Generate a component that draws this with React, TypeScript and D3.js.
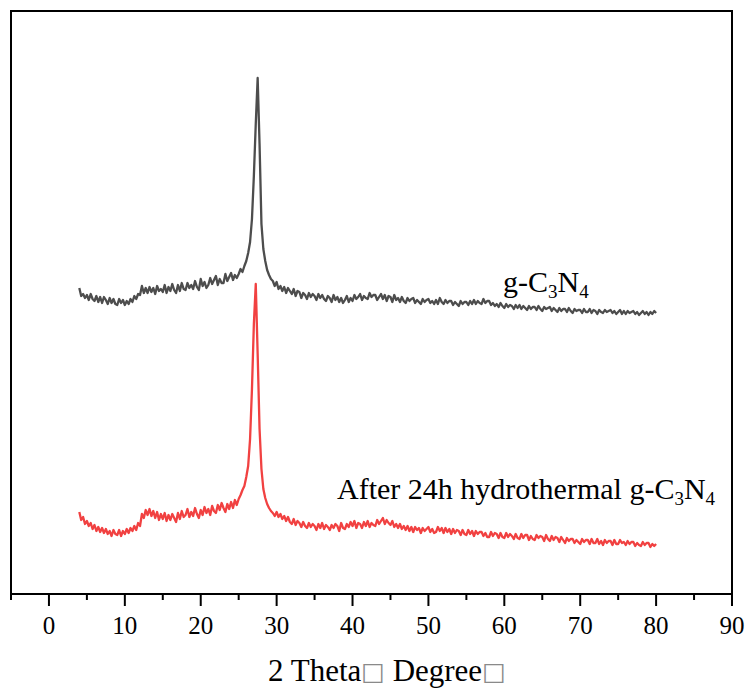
import React from 'react';
import * as d3 from 'd3';

// 2θ sampling of the two patterns (degrees)
const ANGLE_START = 4;
const ANGLE_STEP = 0.25;

const xMajorTicks = [0, 10, 20, 30, 40, 50, 60, 70, 80, 90];
const xMinorTicks = [-5, 5, 15, 25, 35, 45, 55, 65, 75, 85];

// Intensity (a.u.) of pristine g-C3N4, 4°..80° every 0.25°
const gC3N4 = [
  306, 298, 300, 296,
  299, 294, 300, 295,
  293, 298, 292, 297,
  291, 297, 294, 290,
  296, 291, 295, 290,
  289, 295, 291, 294,
  289, 293, 290, 295,
  292, 298, 295, 300,
  299, 308, 301, 306,
  301, 307, 302, 306,
  300, 308, 303, 305,
  302, 309, 301, 307,
  303, 310, 304, 301,
  309, 303, 311, 305,
  304, 311, 306, 309,
  305, 313, 307, 304,
  315, 308, 312, 306,
  309, 316, 310, 314,
  318, 309, 315, 311,
  311, 320, 313, 317,
  321, 314, 319, 316,
  320, 325, 322, 328,
  333, 341, 352, 375,
  418, 470, 516, 450,
  370, 345, 333, 324,
  319, 315, 313, 308,
  312, 305, 308, 303,
  307, 301, 306, 303,
  300, 305, 298, 303,
  302, 296, 301, 299,
  295, 301, 297, 300,
  298, 294, 300, 296,
  299, 295, 293, 298,
  296, 292, 299, 294,
  297, 292, 296, 291,
  294, 298, 292, 296,
  293, 299, 295, 297,
  300, 294, 298, 296,
  295, 301, 297, 299,
  299, 294, 297, 300,
  295, 299, 293, 298,
  297, 292, 299, 294,
  296, 292, 297, 293,
  291, 296, 293, 295,
  296, 291, 294, 292,
  290, 295, 292, 294,
  295, 291, 293, 290,
  294, 290, 296, 292,
  290, 294, 291, 293,
  293, 289, 292, 290,
  288, 293, 290, 292,
  292, 289, 293, 290,
  294, 290, 293, 291,
  290, 295, 291, 293,
  293, 289, 291, 288,
  290, 287, 291, 288,
  286, 290, 287, 289,
  288, 285, 289, 286,
  289, 285, 288, 286,
  284, 288, 285, 287,
  287, 284, 288, 285,
  283, 287, 285, 286,
  287, 283, 286, 284,
  282, 286, 283, 285,
  285, 282, 286, 283,
  281, 285, 283, 284,
  284, 281, 285, 282,
  282, 285, 281, 284,
  283, 280, 284, 282,
  281, 284, 282, 283,
  284, 281, 283, 280,
  282, 284, 280, 283,
  280, 283, 281, 282,
  283, 280, 282, 279,
  281, 283, 280, 282,
  279, 282, 280, 283,
  281,
];

// Intensity (a.u.) after 24h hydrothermal treatment, 4°..80° every 0.25°
const hydrothermalC3N4 = [
  82, 74, 77, 70,
  73, 68, 71, 65,
  69, 63, 67, 62,
  66, 61, 65, 60,
  63, 58, 64, 60,
  59, 64, 58, 63,
  60, 65, 61, 66,
  63, 68, 64, 71,
  68, 80, 76, 84,
  79, 85, 78, 83,
  76, 82, 74, 80,
  75, 81, 73, 79,
  74, 80, 76, 72,
  81, 75, 83, 77,
  79, 85, 77, 82,
  78, 86, 80, 76,
  84, 79, 87, 81,
  85, 79, 88, 83,
  81, 89, 84, 91,
  86, 82, 90, 85,
  92, 86, 94, 89,
  95, 99, 104, 108,
  117, 128, 155, 205,
  270, 310, 240, 165,
  125, 105, 96, 90,
  86, 83, 81, 78,
  82, 77, 80, 75,
  78, 73, 77, 72,
  70, 75, 69, 73,
  71, 67, 72, 68,
  66, 71, 67, 70,
  68, 64, 70, 66,
  71, 65, 69, 67,
  64, 69, 66, 70,
  68, 63, 71, 66,
  65, 70, 67, 72,
  68, 73, 66, 71,
  70, 66, 72, 68,
  73, 67, 71, 69,
  68, 74, 70, 73,
  76, 70, 74, 71,
  69, 73, 67, 70,
  66, 70, 65, 68,
  64, 68, 63, 67,
  62, 67, 64, 66,
  61, 66, 63, 65,
  67, 62, 65, 61,
  62, 67, 63, 66,
  61, 66, 62, 65,
  60, 65, 61, 64,
  63, 59, 64, 60,
  59, 64, 60, 63,
  58, 63, 60, 62,
  62, 58, 61, 57,
  57, 62, 58, 61,
  60, 56, 61, 57,
  56, 61, 57, 60,
  58, 55, 60, 56,
  55, 60, 56, 59,
  59, 54, 58, 55,
  54, 59, 56, 58,
  57, 53, 59, 55,
  53, 58, 54, 57,
  56, 52, 57, 54,
  51, 56, 53, 55,
  55, 51, 54, 52,
  50, 55, 52, 54,
  54, 50, 55, 51,
  51, 55, 50, 53,
  49, 54, 51, 53,
  53, 49, 54, 50,
  50, 54, 51, 52,
  49, 53, 50, 52,
  52, 48, 51, 49,
  48, 52, 49, 51,
  51, 47, 50, 48,
  50,
];

const xTitle = ['2 Theta', '□', ' Degree', '□'];

const SERIF = '"Liberation Serif", "Times New Roman", Times, serif';
const BOXFONT = '"DejaVu Sans", sans-serif';

export default function App() {
  const W = 750;
  const H = 691;
  const left = 11, right = 732, top = 11, bottom = 594;

  const x = d3.scaleLinear().domain([-5, 90]).range([left, right]);
  const y = d3.scaleLinear().domain([0, 583]).range([bottom, top]);

  const line = d3
    .line<number>()
    .x((_, i) => x(ANGLE_START + i * ANGLE_STEP))
    .y((d) => y(d));

  return (
    <svg
      width={W}
      height={H}
      viewBox={`0 0 ${W} ${H}`}
      style={{ position: 'absolute', left: 0, top: 0, background: '#fff' }}
    >
      <rect x={0} y={0} width={W} height={H} fill="#fff" />
      <path d={line(gC3N4) || ''} fill="none" stroke="#4d4d4d" strokeWidth={2.3} strokeLinejoin="round" />
      <path d={line(hydrothermalC3N4) || ''} fill="none" stroke="#f14141" strokeWidth={2.3} strokeLinejoin="round" />

      {/* frame */}
      <rect x={left} y={top} width={right - left} height={bottom - top} fill="none" stroke="#000" strokeWidth={2} />

      {/* ticks */}
      {xMajorTicks.map((t) => (
        <line key={'M' + t} x1={x(t)} x2={x(t)} y1={bottom} y2={bottom + 12} stroke="#000" strokeWidth={2} />
      ))}
      {xMinorTicks.map((t) => (
        <line key={'m' + t} x1={x(t)} x2={x(t)} y1={bottom} y2={bottom + 6} stroke="#000" strokeWidth={2} />
      ))}
      {xMajorTicks.map((t) => (
        <text key={'l' + t} x={x(t)} y={634} textAnchor="middle" fontFamily={SERIF} fontSize={25} fill="#000">
          {t}
        </text>
      ))}

      {/* axis title */}
      <text x={268} y={681} fontFamily={SERIF} fontSize={31} fill="#000">
        <tspan>{xTitle[0]}</tspan>
        <tspan fontFamily={BOXFONT} fontSize={25} dy={-1} fill="#8a8a8a">{xTitle[1]}</tspan>
        <tspan dy={1}>{xTitle[2]}</tspan>
        <tspan fontFamily={BOXFONT} fontSize={25} dy={-1} fill="#8a8a8a">{xTitle[3]}</tspan>
      </text>

      {/* series labels */}
      <text x={503} y={292} fontFamily={SERIF} fontSize={30} fill="#000">
        <tspan>g-C</tspan>
        <tspan fontSize={19} dy={6}>3</tspan>
        <tspan dy={-6}>N</tspan>
        <tspan fontSize={19} dy={6}>4</tspan>
      </text>
      <text x={337} y={499} fontFamily={SERIF} fontSize={30} fill="#000">
        <tspan>After 24h hydrothermal g-C</tspan>
        <tspan fontSize={19} dy={6}>3</tspan>
        <tspan dy={-6}>N</tspan>
        <tspan fontSize={19} dy={6}>4</tspan>
      </text>
    </svg>
  );
}
